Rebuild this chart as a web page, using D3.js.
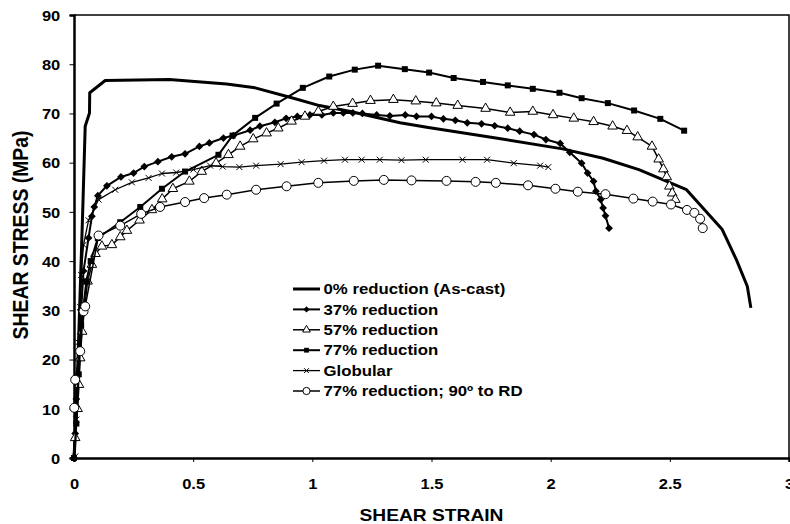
<!DOCTYPE html>
<html>
<head>
<meta charset="utf-8">
<script src="https://cdn.jsdelivr.net/npm/d3@7"></script>
<style>
  body { margin: 0; background: #fff; }
  text { font-family: "Liberation Sans", Arial, sans-serif; font-weight: bold; }
</style>
</head>
<body>
<div id="vis"></div>
<script>
// data
const XTICKS = [0, 0.5, 1, 1.5, 2, 2.5, 3];
const YTICKS = [0, 10, 20, 30, 40, 50, 60, 70, 80, 90];

const LABELS = ["0% reduction (As-cast)", "37% reduction", "57% reduction",
                "77% reduction", "Globular", "77% reduction; 90\u00ba to RD"];

const ASCAST = [[0,0],[0.01,10],[0.02,25],[0.03,40],[0.038,52.5],[0.047,67.4],[0.065,70.1],[0.066,74.2],
  [0.131,76.7],[0.4,76.9],[0.64,76.0],[0.76,75.2],[0.906,73.3],[1.03,71.6],[1.16,70.4],[1.368,68.1],
  [1.48,67.2],[1.77,65.0],[2.05,62.8],[2.22,60.9],[2.37,58.6],[2.57,54.5],[2.72,46.4],[2.78,40.2],
  [2.825,34.9],[2.84,30.5]];

const R37 = [[0,0],[0.005,5],[0.01,12],[0.02,20],[0.03,30],[0.04,38],[0.061,44.7],[0.075,49.1],
  [0.085,51.0],[0.1,53.3],[0.138,55.3],[0.197,57.1],[0.25,57.9],[0.295,59.2],[0.352,60.2],[0.41,61.2],
  [0.466,61.8],[0.526,63.3],[0.568,64.0],[0.627,65.0],[0.669,65.5],[0.739,66.6],[0.78,67.4],[0.843,68.2],
  [0.89,69.0],[0.937,69.4],[0.99,69.7],[1.04,69.7],[1.088,70.1],[1.13,70.1],[1.17,70.1],[1.21,70.0],
  [1.27,69.7],[1.325,69.5],[1.39,69.7],[1.437,69.4],[1.5,69.4],[1.55,68.9],[1.6,68.6],[1.65,68.1],
  [1.71,67.9],[1.765,67.5],[1.82,67.0],[1.87,66.4],[1.93,65.7],[1.98,64.7],[2.04,63.9],[2.08,62.1],
  [2.13,59.9],[2.155,57.9],[2.18,56.2],[2.19,54.2],[2.21,52.5],[2.22,50.8],[2.23,49.2],[2.245,46.7]];

const R57 = [[0.005,4.1],[0.015,10],[0.021,14.9],[0.026,20.3],[0.034,25.7],[0.057,35.9],[0.075,39.3],
  [0.09,41.5],[0.117,43.0],[0.159,43.3],[0.194,44.9],[0.222,46.2],[0.275,48.3],[0.327,50.4],[0.37,52.6],
  [0.415,54.7],[0.484,56.2],[0.536,58.2],[0.596,59.9],[0.648,61.6],[0.697,63.3],[0.752,64.8],[0.808,66.0],
  [0.857,67.0],[0.913,68.4],[0.969,69.4],[1.025,70.4],[1.088,71.4],[1.169,72.0],[1.244,72.6],[1.34,72.8],
  [1.434,72.5],[1.52,72.1],[1.61,71.6],[1.727,71.0],[1.83,70.2],[1.925,70.4],[2.01,69.7],[2.097,69.0],
  [2.18,68.3],[2.26,67.4],[2.32,66.5],[2.365,65.2],[2.425,63.3],[2.453,60.7],[2.473,58.7],[2.487,57.1],
  [2.498,55.2],[2.51,53.8],[2.523,52.5]];

const R77 = [[0,0],[0.01,7],[0.02,17],[0.03,27],[0.04,31],[0.052,35.9],[0.07,40],[0.1,44.7],
  [0.194,47.9],[0.278,51.0],[0.369,54.7],[0.466,58.2],[0.606,61.6],[0.665,65.5],[0.76,69.1],[0.85,72.0],
  [0.96,75.2],[1.071,77.5],[1.178,78.9],[1.276,79.7],[1.388,79.0],[1.49,78.3],[1.593,77.2],[1.716,76.4],
  [1.82,75.7],[1.925,75.0],[2.037,74.2],[2.13,73.1],[2.24,72.1],[2.35,70.6],[2.46,68.9],[2.56,66.5]];

const GLOB = [[0.005,0.3],[0.01,7.8],[0.015,16],[0.018,23.5],[0.026,30.7],[0.03,37.2],[0.04,43.3],
  [0.061,48.3],[0.103,52.5],[0.173,54.5],[0.243,56.0],[0.313,56.9],[0.369,57.8],[0.429,58.0],[0.501,58.6],
  [0.571,59.4],[0.624,59.2],[0.694,59.1],[0.764,59.4],[0.867,59.7],[0.955,60.1],[1.049,60.4],[1.137,60.6],
  [1.207,60.6],[1.283,60.6],[1.374,60.5],[1.476,60.6],[1.63,60.6],[1.733,60.6],[1.845,59.9],[1.956,59.4],
  [1.99,59.1]];

const R77T = [[0.001,10.2],[0.005,15.9],[0.026,21.7],[0.04,29.8],[0.047,30.8],[0.103,45.2],[0.194,47.2],
  [0.282,49.6],[0.361,51.0],[0.466,52.0],[0.546,52.8],[0.641,53.5],[0.764,54.5],[0.892,55.2],[1.025,55.9],
  [1.174,56.3],[1.3,56.5],[1.416,56.4],[1.563,56.3],[1.685,56.1],[1.77,55.9],[1.905,55.4],[2.02,54.7],
  [2.114,54.1],[2.23,53.6],[2.347,52.7],[2.428,52.1],[2.505,51.5],[2.572,50.4],[2.603,49.8],[2.627,48.6],
  [2.638,46.7]];

const FRAME_WIDTH = 790;
const FRAME_HEIGHT = 524;
const MARGINS = {left: 74, right: 1, top: 15, bottom: 66};

const svg = d3.select("#vis").append("svg")
  .attr("width", FRAME_WIDTH)
  .attr("height", FRAME_HEIGHT);

const X_SCALE = d3.scaleLinear().domain([0, 3]).range([MARGINS.left, FRAME_WIDTH - MARGINS.right]);
const Y_SCALE = d3.scaleLinear().domain([0, 90]).range([FRAME_HEIGHT - MARGINS.bottom, MARGINS.top]);

// frame (top and right)
svg.append("path")
  .attr("d", `M${X_SCALE(0)},${Y_SCALE(90)}H${X_SCALE(3)}V${Y_SCALE(0)}`)
  .attr("fill", "none").attr("stroke", "#000").attr("stroke-width", 1.5);

// axes
const xAxis = svg.append("g")
  .attr("transform", `translate(0,${Y_SCALE(0)})`)
  .call(d3.axisBottom(X_SCALE).tickValues(XTICKS).tickSize(4).tickPadding(16)
        .tickFormat(d3.format("")));
const yAxis = svg.append("g")
  .attr("transform", `translate(${X_SCALE(0)},0)`)
  .call(d3.axisLeft(Y_SCALE).tickValues(YTICKS).tickSize(4.5).tickPadding(8));

[xAxis, yAxis].forEach(a => {
  a.select(".domain").attr("stroke-width", 2.5);
  a.selectAll(".tick line").attr("stroke-width", 1);
  a.selectAll("text").attr("font-size", "15px").attr("font-weight", "bold")
    .attr("font-family", "Liberation Sans, Arial, sans-serif")
    .attr("transform", "scale(1.1,1)");
});
yAxis.selectAll("text").attr("dy", "0.35em");

svg.append("text")
  .attr("transform", "translate(431.5,521) scale(1.15,1)")
  .attr("text-anchor", "middle").attr("font-size", "16.7px")
  .text("SHEAR STRAIN");
svg.append("text")
  .attr("transform", "translate(28,235) rotate(-90) scale(1,1.15)")
  .attr("text-anchor", "middle").attr("font-size", "19.4px")
  .text("SHEAR STRESS (MPa)");

const line = d3.line().x(d => X_SCALE(d[0])).y(d => Y_SCALE(d[1]));

const SERIES = [
  {data: ASCAST, width: 3, marker: null},
  {data: R37, width: 2, marker: "diamond"},
  {data: R57, width: 1.5, marker: "triangle"},
  {data: R77, width: 2, marker: "square"},
  {data: GLOB, width: 1.3, marker: "x"},
  {data: R77T, width: 1.5, marker: "circle"}
];

function drawMarker(g, type, x, y, k) {
  k = k || 1;
  if (type === "diamond") {
    g.append("path").attr("d", d3.symbol(d3.symbolSquare, 30 * k * k)())
      .attr("transform", `translate(${x},${y}) rotate(45)`).attr("fill", "#000");
  } else if (type === "square") {
    g.append("path").attr("d", d3.symbol(d3.symbolSquare, 36 * k * k)())
      .attr("transform", `translate(${x},${y})`).attr("fill", "#000");
  } else if (type === "triangle") {
    g.append("path").attr("d", d3.symbol(d3.symbolTriangle, 40 * k * k)())
      .attr("transform", `translate(${x},${y})`)
      .attr("fill", "#fff").attr("stroke", "#000").attr("stroke-width", 1);
  } else if (type === "circle") {
    g.append("circle").attr("cx", x).attr("cy", y).attr("r", 4.5 * k)
      .attr("fill", "#fff").attr("stroke", "#000").attr("stroke-width", 1);
  } else if (type === "x") {
    const s = 3 * k;
    g.append("path").attr("d", `M${-s},${-s}L${s},${s}M${-s},${s}L${s},${-s}`)
      .attr("transform", `translate(${x},${y})`)
      .attr("fill", "none").attr("stroke", "#000").attr("stroke-width", 1);
  }
}

SERIES.forEach(s => {
  svg.append("path").datum(s.data)
    .attr("d", line)
    .attr("fill", "none").attr("stroke", "#000")
    .attr("stroke-width", s.width).attr("stroke-linejoin", "round");
  if (s.marker) {
    const g = svg.append("g");
    s.data.forEach(d => drawMarker(g, s.marker, X_SCALE(d[0]), Y_SCALE(d[1])));
  }
});

// legend
const legend = svg.append("g");
SERIES.forEach((s, i) => {
  const y = 289 + i * 20.4;
  legend.append("line").attr("x1", 293).attr("x2", 320).attr("y1", y).attr("y2", y)
    .attr("stroke", "#000").attr("stroke-width", s.width);
  if (s.marker) drawMarker(legend, s.marker, 306.5, y, 0.8);
  legend.append("text")
    .attr("transform", `translate(323.5,${y}) scale(1.15,1)`)
    .attr("dy", "0.36em")
    .attr("font-size", "14.6px").text(LABELS[i]);
});
</script>
</body>
</html>
